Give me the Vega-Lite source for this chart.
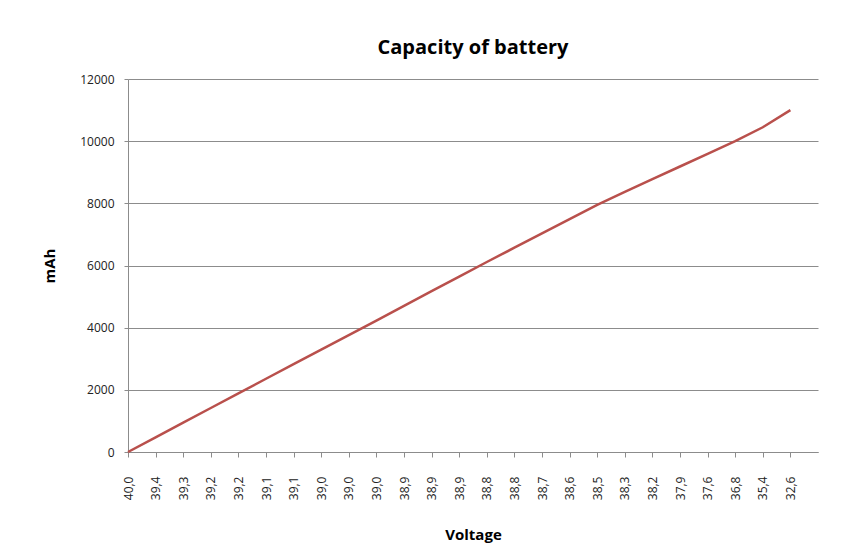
{
  "$schema": "https://vega.github.io/schema/vega-lite/v6.json",
  "width": 690,
  "height": 373,
  "autosize": {"type": "none"},
  "padding": {"left": 128, "top": 79, "right": 50, "bottom": 107},
  "background": "white",
  "title": {
    "text": "Capacity of battery",
    "font": "Open Sans",
    "fontSize": 20,
    "fontWeight": "bold",
    "color": "#000000",
    "anchor": "middle",
    "offset": 15
  },
  "data": {
    "values": [
      {"voltage": 40.0, "mAh": 0},
      {"voltage": 39.4, "mAh": 472},
      {"voltage": 39.3, "mAh": 944},
      {"voltage": 39.22, "mAh": 1415},
      {"voltage": 39.17, "mAh": 1887},
      {"voltage": 39.12, "mAh": 2356},
      {"voltage": 39.07, "mAh": 2824},
      {"voltage": 39.04, "mAh": 3292},
      {"voltage": 39.0, "mAh": 3759},
      {"voltage": 38.96, "mAh": 4229},
      {"voltage": 38.93, "mAh": 4701},
      {"voltage": 38.9, "mAh": 5173},
      {"voltage": 38.87, "mAh": 5644},
      {"voltage": 38.83, "mAh": 6113},
      {"voltage": 38.77, "mAh": 6573},
      {"voltage": 38.7, "mAh": 7033},
      {"voltage": 38.6, "mAh": 7493},
      {"voltage": 38.5, "mAh": 7953},
      {"voltage": 38.3, "mAh": 8367},
      {"voltage": 38.2, "mAh": 8776},
      {"voltage": 37.9, "mAh": 9185},
      {"voltage": 37.6, "mAh": 9594},
      {"voltage": 36.8, "mAh": 10000},
      {"voltage": 35.4, "mAh": 10448},
      {"voltage": 32.6, "mAh": 11000}
    ]
  },
  "mark": {"type": "line", "color": "#b9504c", "strokeWidth": 2.5},
  "encoding": {
    "x": {
      "field": "voltage",
      "type": "ordinal",
      "sort": null,
      "scale": {"type": "point", "padding": 0.5, "align": 0},
      "axis": {
        "title": "Voltage",
        "labelExpr": "replace(format(datum.value, '.1f'), '.', ',')",
        "labelAngle": 270,
        "labelFont": "Open Sans",
        "labelFontSize": 12,
        "labelColor": "#222222",
        "labelPadding": 19,
        "tickSize": 5,
        "tickColor": "#8c8c8c",
        "domainColor": "#8c8c8c",
        "titleFont": "Open Sans",
        "titleFontSize": 15,
        "titleFontWeight": "bold",
        "titleColor": "#000000",
        "titlePadding": 28,
        "grid": false
      }
    },
    "y": {
      "field": "mAh",
      "type": "quantitative",
      "scale": {"domain": [0, 12000], "nice": false},
      "axis": {
        "title": "mAh",
        "values": [0, 2000, 4000, 6000, 8000, 10000, 12000],
        "format": "d",
        "labelFont": "Open Sans",
        "labelFontSize": 12,
        "labelColor": "#222222",
        "labelPadding": 10,
        "tickSize": 4,
        "tickColor": "#8c8c8c",
        "domainColor": "#8c8c8c",
        "gridColor": "#8c8c8c",
        "gridOpacity": 1,
        "titleFont": "Open Sans",
        "titleFontSize": 15,
        "titleFontWeight": "bold",
        "titleColor": "#000000",
        "titlePadding": 22
      }
    }
  },
  "config": {
    "view": {"stroke": null}
  }
}
